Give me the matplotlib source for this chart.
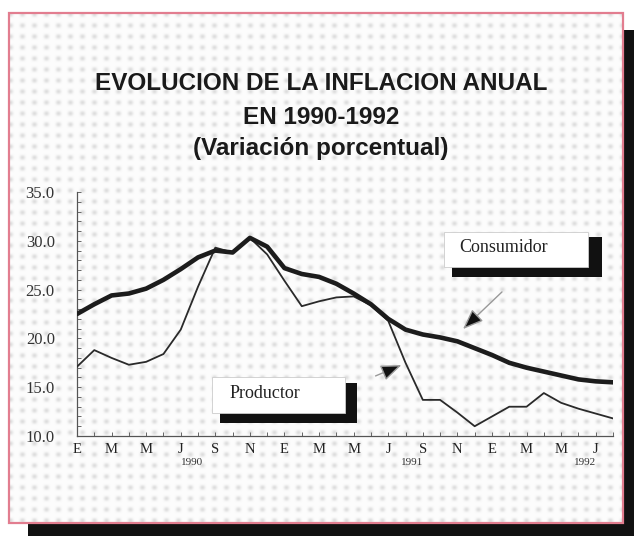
import numpy as np
import matplotlib
matplotlib.use("Agg")
import matplotlib.pyplot as plt
from matplotlib.patches import Rectangle, FancyArrowPatch

# ---------------- data ----------------
# monthly, January 1990 .. August 1992
month_index = np.arange(32)
consumidor = [22.5, 23.5, 24.4, 24.6, 25.1, 26.0, 27.1, 28.3, 29.0, 28.8, 30.3, 29.4,
              27.2, 26.6, 26.3, 25.6, 24.6, 23.5, 22.0, 20.9, 20.4, 20.1, 19.7, 19.0,
              18.3, 17.5, 17.0, 16.6, 16.2, 15.8, 15.6, 15.5]
productor = [17.1, 18.8, 18.0, 17.3, 17.6, 18.4, 20.9, 25.3, 29.3, 28.8, 30.3, 28.6,
             25.9, 23.3, 23.8, 24.2, 24.3, 23.4, 21.8, 17.5, 13.7, 13.7, 12.4, 11.0,
             12.0, 13.0, 13.0, 14.4, 13.4, 12.8, 12.3, 11.8]
x_tick_labels = ["E", "M", "M", "J", "S", "N", "E", "M", "M", "J", "S", "N", "E", "M", "M", "J"]
y_ticks = [10, 15, 20, 25, 30, 35]
year_labels = ["1990", "1991", "1992"]
year_label_pos = [6.65, 19.4, 29.4]
title_lines = ["EVOLUCION DE LA INFLACION ANUAL", "EN 1990-1992", "(Variación porcentual)"]
series_names = ["Consumidor", "Productor"]

# ---------------- figure ----------------
W, H = 634, 536
fig = plt.figure(figsize=(W / 100, H / 100), dpi=100)
fig.patch.set_facecolor("white")

def fx(x):
    return x / W

def fy(y):
    return 1 - y / H

def frect(x0, y0, x1, y1, **kw):
    r = Rectangle((fx(x0), fy(y1)), fx(x1) - fx(x0), fy(y0) - fy(y1),
                  transform=fig.transFigure, **kw)
    fig.patches.append(r)
    return r

# drop shadow and panel
frect(28, 30, 634, 536, facecolor="#111111", edgecolor="none", zorder=0)
frect(9, 13, 623, 523, facecolor="#f7f7f7", edgecolor="none", zorder=1)

# halftone screen texture on the panel (decorative background)
bg = fig.add_axes([fx(10), fy(522), fx(622) - fx(10), (522 - 14) / H])
bg.set_zorder(1.5)
pw, ph = 612, 508
gx, gy = np.meshgrid(np.arange(pw), np.arange(ph))
dots = ((1 + np.cos(2 * np.pi * gx / 12.0)) / 2 * (1 + np.cos(2 * np.pi * gy / 11.0)) / 2) ** 2
tex = 0.985 - 0.12 * dots
bg.imshow(tex, cmap="gray", vmin=0, vmax=1, aspect="auto", interpolation="bilinear")
bg.axis("off")

frect(9, 13, 623, 523, facecolor="none", edgecolor="#e27d8f", linewidth=1.6, zorder=2)

# title
serif = "Liberation Serif"
sans = "Liberation Sans"
for txt, yy in zip(title_lines, [83, 117, 148]):
    fig.text(fx(321), fy(yy), txt, ha="center", va="center", fontsize=17.5,
             fontweight="bold", family=sans, color="#1a1a1a", zorder=5)

# axes
ax = fig.add_axes([fx(77), fy(436), fx(613) - fx(77), (436 - 192) / H])
ax.patch.set_alpha(0)
ax.set_zorder(3)
ax.plot(month_index, consumidor, color="#1c1c1c", lw=3.3, solid_joinstyle="round",
        solid_capstyle="round", zorder=4)
ax.plot(month_index, productor, color="#2a2a2a", lw=1.3, solid_joinstyle="round", zorder=3)
ax.set_xlim(0, 31)
ax.set_ylim(10, 35)
for s in ["top", "right"]:
    ax.spines[s].set_visible(False)
for s in ["left", "bottom"]:
    ax.spines[s].set_color("#555555")
    ax.spines[s].set_linewidth(0.9)

ax.set_yticks(y_ticks)
ax.set_yticklabels([f"{v:.1f}" for v in y_ticks], family=serif, fontsize=12, color="#333333")
ax.set_yticks(np.arange(10, 36, 1), minor=True)
ax.set_xticks(month_index[::2][:len(x_tick_labels)])
ax.set_xticklabels(x_tick_labels, family=serif, fontsize=10.5, color="#222222")
ax.set_xticks(month_index, minor=True)
ax.tick_params(axis="y", which="both", direction="in", length=3, width=0.7,
               color="#666666", pad=16)
ax.tick_params(axis="x", which="both", direction="in", length=3, width=0.7,
               color="#666666", pad=5)

for lab, xp in zip(year_labels, year_label_pos):
    ax.text(xp, -0.108, lab, transform=ax.get_xaxis_transform(), ha="center",
            va="center", family=serif, fontsize=8, color="#333333")

# label boxes
frect(452, 237, 602, 277, facecolor="#111111", edgecolor="none", zorder=6)
frect(444, 232, 588, 267, facecolor="white", edgecolor="#cccccc", linewidth=0.6, zorder=7)
fig.text(fx(459), fy(248), series_names[0], ha="left", va="center", family=serif,
         fontsize=13, color="#222222", zorder=8)

frect(220, 383, 357, 423, facecolor="#111111", edgecolor="none", zorder=6)
frect(212, 377, 345, 413, facecolor="white", edgecolor="#cccccc", linewidth=0.6, zorder=7)
fig.text(fx(230), fy(394), series_names[1], ha="left", va="center", family=serif,
         fontsize=13, color="#222222", zorder=8)

# arrows
for (x0, y0), (x1, y1) in [((504, 290), (461, 331)), ((373, 377), (404, 364))]:
    arr = FancyArrowPatch((fx(x0), fy(y0)), (fx(x1), fy(y1)), transform=fig.transFigure,
                          arrowstyle="-|>,head_length=0.9,head_width=0.35",
                          mutation_scale=14, color="#999999", lw=1.0, zorder=9)
    arr.set_facecolor("#111111")
    fig.patches.append(arr)

fig.savefig("out.png", dpi=100, facecolor=fig.get_facecolor())
